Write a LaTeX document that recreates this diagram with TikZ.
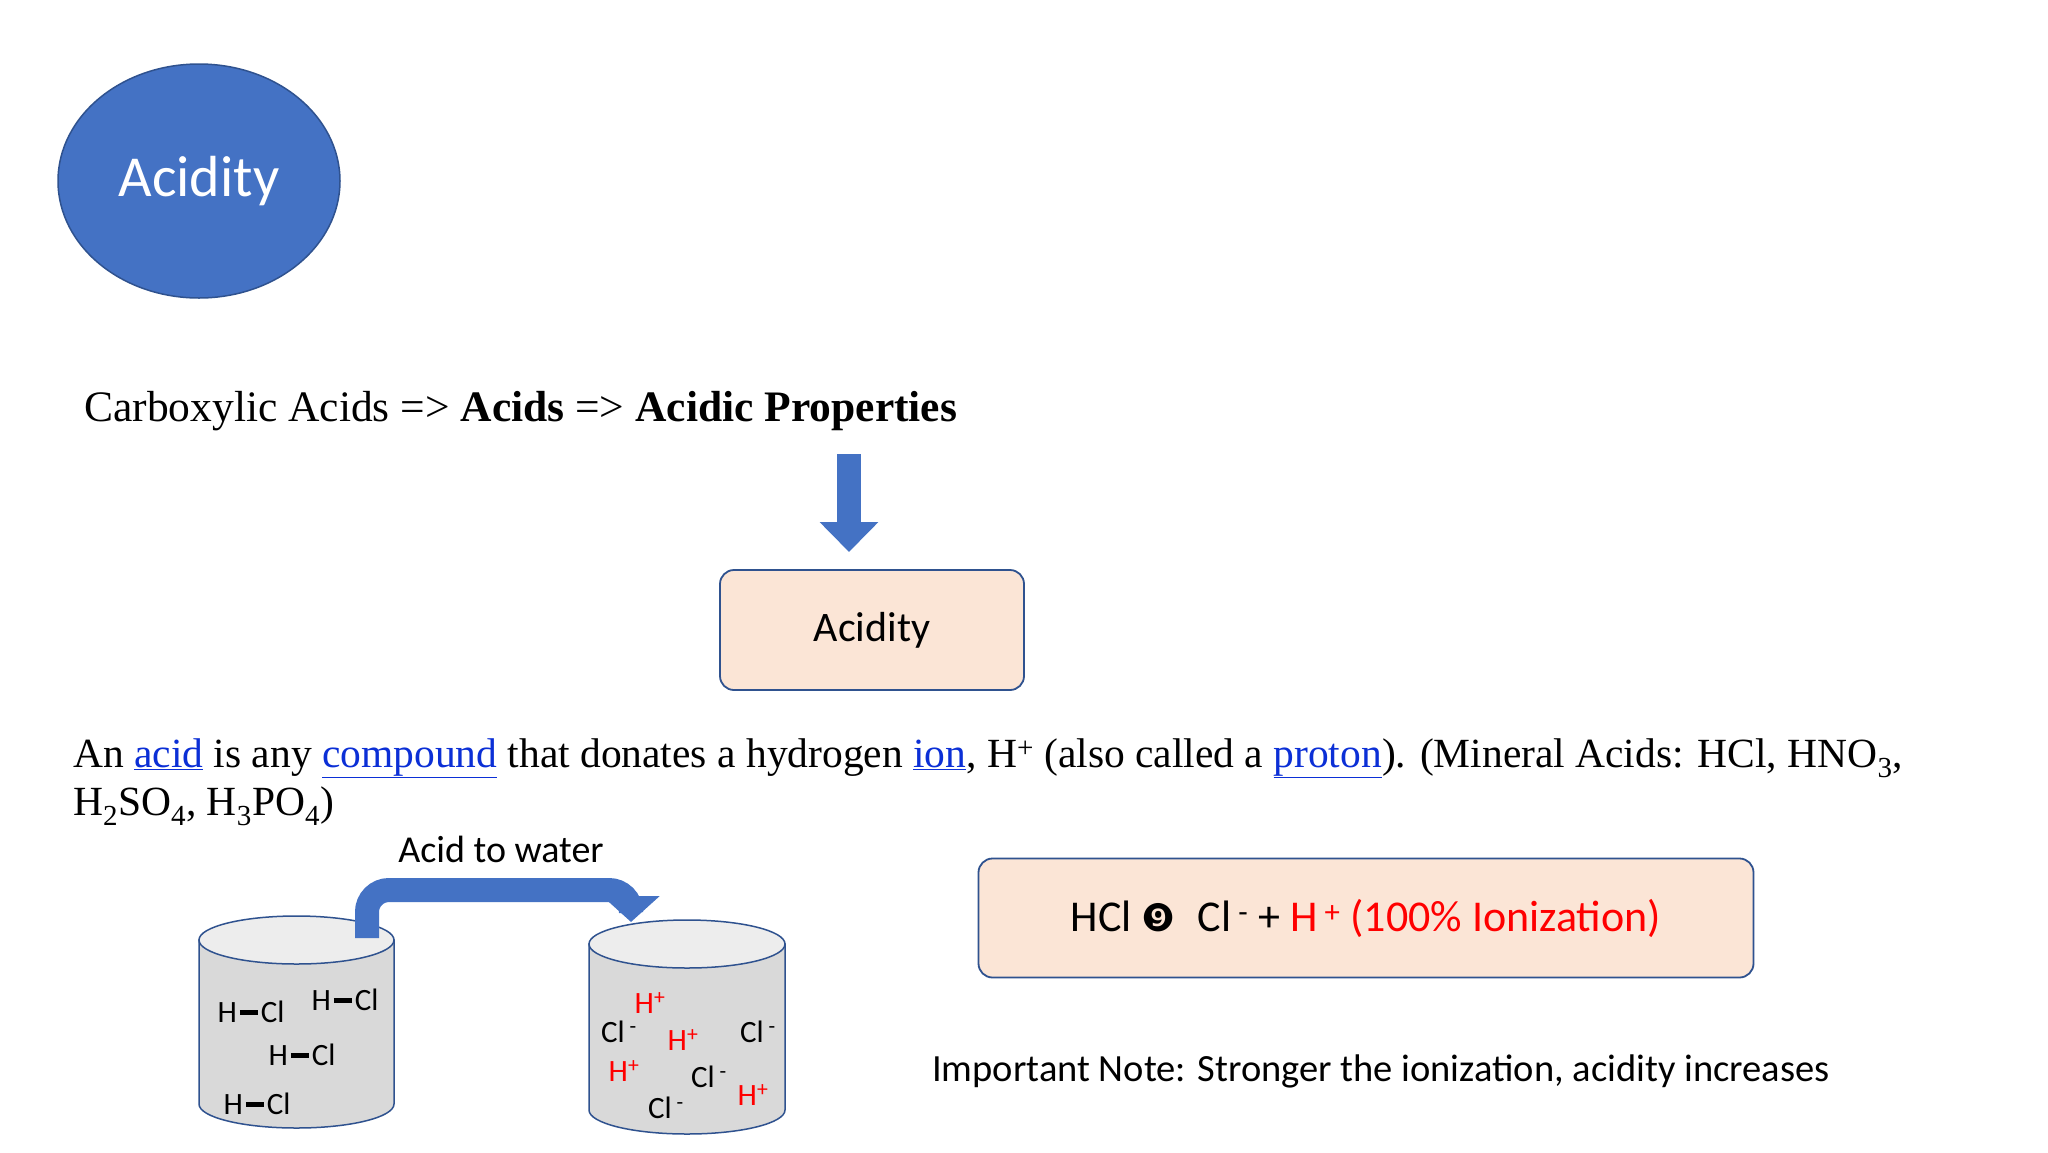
\documentclass[tikz,border=0pt]{standalone}
\usepackage{fontspec}
\setmainfont{Liberation Serif}
\newfontfamily\calfont{Carlito}
\newfontfamily\djfont{DejaVu Sans}
\usetikzlibrary{arrows.meta,shapes.geometric}
\definecolor{bl}{HTML}{4472C4}
\definecolor{dbl}{HTML}{2F528F}
\definecolor{peach}{HTML}{FBE5D6}
\definecolor{lnk}{HTML}{0B2FD6}
\definecolor{rd}{HTML}{FF0000}
\newcommand{\lk}[1]{\textcolor{lnk}{\underline{#1}}}
\newcommand{\bond}{\hspace{3pt}\rule[8pt]{18pt}{4.5pt}\hspace{3pt}}
\tikzset{
 cyl/.style={fill=black!15,draw=dbl,line width=1.5pt},
 cyltop/.style={fill=black!7,draw=dbl,line width=1.5pt},
 mol/.style={font=\calfont\fontsize{31}{33}\selectfont,inner sep=0},
 ion/.style={mol,text=rd},
 pbox/.style={draw=dbl,fill=peach,line width=1.8pt,rounded corners=14pt}
}
\begin{document}
\begin{tikzpicture}[x=1pt,y=-1pt]
\useasboundingbox[fill=white] (0,0) rectangle (2048,1152);
\node[ellipse,draw=dbl,fill=bl,line width=1.5pt,minimum width=282,minimum height=234,text=white,font=\calfont\fontsize{58}{64}\selectfont] (e) at (199,181) {Acidity};
\node[anchor=west,inner sep=0,font=\fontsize{43.5}{50}\selectfont] (t1) at (84,411) {Carboxylic Acids => \textbf{Acids} => \textbf{Acidic Properties}};
\coordinate (da) at (849,454);
\node[pbox,minimum width=304,minimum height=120,font=\calfont\fontsize{42}{48}\selectfont] (b1) at (872,630) {Acidity};
\draw[bl,line width=24pt,-{Triangle[length=30pt,width=57pt]}] (da) -- (849,552);
\node[anchor=north west,inner sep=0,align=left,font=\fontsize{41.5}{48}\selectfont] (p) at (73,738) {An \lk{acid} is any \lk{compound} that donates a hydrogen \lk{ion}, H\textsuperscript{+} (also called a \lk{proton}). (Mineral Acids: HCl, HNO\textsubscript{3},\\H\textsubscript{2}SO\textsubscript{4}, H\textsubscript{3}PO\textsubscript{4})};
\node[font=\calfont\fontsize{38}{44}\selectfont] (aw) at (501,849) {Acid to water};
\path[cyl] (199,940) -- (199,1104) arc[start angle=180,end angle=0,x radius=97.5,y radius=24] -- (394,940) -- cycle;
\draw[cyltop] (296.5,940) ellipse[x radius=97.5,y radius=24];
\path[cyl] (589,944) -- (589,1110) arc[start angle=180,end angle=0,x radius=98,y radius=24] -- (785,944) -- cycle;
\draw[cyltop] (687,944) ellipse[x radius=98,y radius=24];
\coordinate (s) at (367,938);
\draw[bl,line width=24pt,rounded corners=22pt,-{Triangle[length=26pt,width=56pt]}] (s) -- (367,890) -- (631,890) -- (631,922);
\node[mol] (l1) at (251,1012) {H\bond Cl};
\node[mol] (l2) at (345,1000) {H\bond Cl};
\node[mol] (l3) at (302,1055) {H\bond Cl};
\node[mol] (l4) at (257,1104) {H\bond Cl};
\node[ion] (r1) at (650,1003) {H\textsuperscript{+}};
\node[mol] (r2) at (619,1032) {Cl\textsuperscript{ -}};
\node[ion] (r3) at (683,1040) {H\textsuperscript{+}};
\node[mol] (r4) at (758,1032) {Cl\textsuperscript{ -}};
\node[ion] (r5) at (624,1071) {H\textsuperscript{+}};
\node[mol] (r6) at (709,1077) {Cl\textsuperscript{ -}};
\node[ion] (r7) at (753,1095) {H\textsuperscript{+}};
\node[mol] (r8) at (666,1108) {Cl\textsuperscript{ -}};
\node[pbox,minimum width=775,minimum height=119,font=\calfont\fontsize{44}{50}\selectfont] (b2) at (1366,918) {HCl {\djfont\fontsize{38}{38}\selectfont ❾}\enspace Cl\textsuperscript{ -} + \textcolor{rd}{H\textsuperscript{ +} (100\% Ionization)}};
\node[anchor=west,inner sep=0,font=\calfont\fontsize{38.5}{44}\selectfont] (n) at (932,1071) {Important Note: Stronger the ionization, acidity increases};
\end{tikzpicture}
\end{document}
